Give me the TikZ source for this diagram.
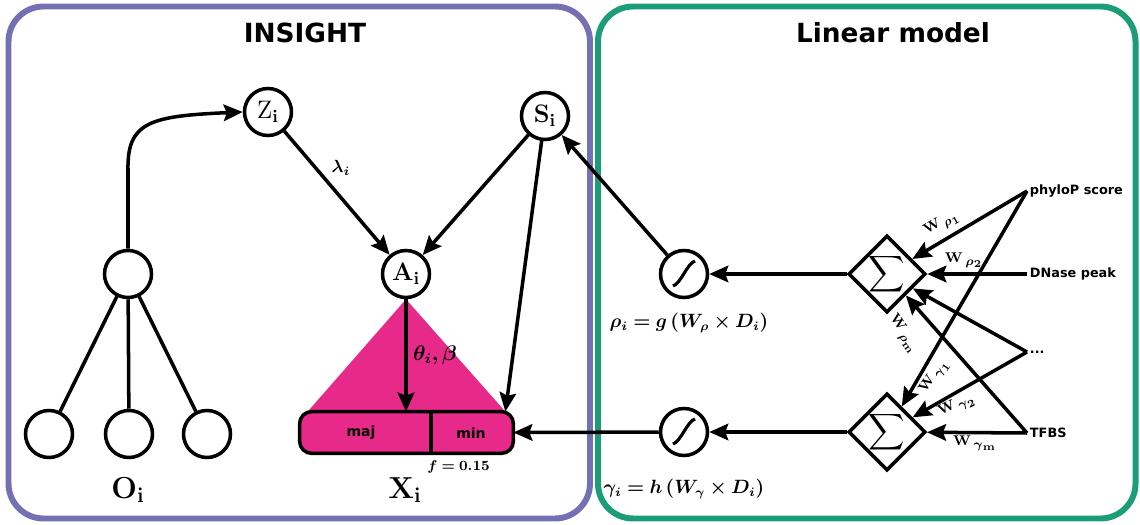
\documentclass[tikz,border=0pt]{standalone}
\usepackage{amsmath,bm}
\usepackage[no-math]{fontspec}
\setsansfont{DejaVu Sans}
\usetikzlibrary{arrows.meta,shapes.geometric,positioning}

\definecolor{insightpurple}{HTML}{7570B3}
\definecolor{lineargreen}{HTML}{1B9E77}
\definecolor{allelepink}{HTML}{E7298A}

\tikzset{
    panel/.style={line width=3.4pt, rounded corners=7mm},
    paneltitle/.style={font=\sffamily\bfseries\fontsize{15}{17}\selectfont},
    var/.style={circle, draw, line width=2pt, fill=white, minimum size=9.4mm, inner sep=0pt, font=\Large},
    sigm/.style={var, path picture={
        \draw[line width=1.8pt] ([shift={(-2.2mm,-2.4mm)}]path picture bounding box.center)
            .. controls +(1.6mm,0.5mm) and +(-1.6mm,-0.5mm) .. ([shift={(2.2mm,2.6mm)}]path picture bounding box.center);}},
    summ/.style={diamond, draw, line width=2pt, fill=white, minimum width=13.2mm, minimum height=13.6mm, inner sep=0pt},
    feat/.style={font=\sffamily\bfseries\fontsize{7.3}{8}\selectfont, anchor=west, inner sep=1.5pt},
    wlab/.style={inner sep=1pt},
    small label/.style={font=\sffamily\bfseries\fontsize{8}{9}\selectfont},
    edge/.style={->, line width=2pt},
}
% weight label: bold W, greek letter and index nearly as large
\newcommand{\wgt}[2]{{\fontsize{8.5}{9}\selectfont$\mathbf{W}$\,\raisebox{-0.5ex}{\fontsize{7.5}{8}\selectfont$\bm{#1}$\raisebox{-0.4ex}{\fontsize{6}{7}\selectfont$\mathbf{#2}$}}}}

\begin{document}
\begin{tikzpicture}[x=0.2mm, y=-0.2mm, >={Stealth[length=3.8mm, width=3.3mm, inset=0.6mm]}]
    \useasboundingbox (0,0) rectangle (1140,525);

    % --- INSIGHT ---
    \draw[panel, insightpurple] (8.5,6.5) rectangle (590,518.5);
    \node[paneltitle] (insight) at (305,33) {INSIGHT};

    \node[var] (zi) at (268,112) {$\mathrm{Z}_\mathbf{i}$};
    \node[var] (si) at (545,116) {$\mathbf{S_i}$};
    \node[var] (ai) at (406,274) {$\mathbf{A_i}$};

    % polymorphism / monomorphism tree
    \node[var] (opar) at (128,274) {};
    \node[var] (oa) at (49,434) {};
    \node[var] (ob) at (129,434) {};
    \node[var] (oc) at (207,434) {};
    \foreach \o in {oa,ob,oc} \draw[line width=2pt] (opar) -- (\o);
    \node[font=\LARGE] (olab) at (128,490) {$\mathbf{O_i}$};

    \draw[edge] (opar.north) -- (128,170) .. controls (127,122) and (150,116) .. (zi.west);

    % allele box
    \node[fill=allelepink, rounded corners=2.4mm,
          minimum width=42.6mm, minimum height=8.2mm, inner sep=0pt] (xbar) at (406.5,432.5) {};
    \fill[allelepink] (ai.south) -- ([xshift=1.6mm]xbar.north west) -- ([xshift=-1.6mm]xbar.north east) -- cycle;
    \draw[line width=2pt, rounded corners=2.4mm] (xbar.south west) rectangle (xbar.north east);
    \coordinate (divtop) at (431,412);
    \coordinate (divbot) at (431,453);
    \draw[line width=2pt] (divtop) -- (divbot);
    \node[small label] (maj) at (361,433) {maj};
    \node[small label] (min) at (471,433) {min};
    \node[anchor=north west, inner sep=0pt, font=\footnotesize] (fval) at ([xshift=-0.8mm,yshift=-1.4mm]divbot) {$\bm{f=0.15}$};
    \node[font=\LARGE] (xlab) at (405,490) {$\mathbf{X_i}$};

    \draw[edge] (zi) -- (ai) node[pos=0.4, above right, inner sep=2pt] {$\bm{\lambda_i}$};
    \draw[edge] (si) -- (ai);
    \draw[edge] (si) -- ([xshift=-1.6mm]xbar.north east);
    \draw[edge] (ai) -- (ai |- xbar.north) node[midway, right, inner sep=3pt, font=\large] {$\bm{\theta_i, \beta}$};

    % --- Linear model ---
    \draw[panel, lineargreen] (598,6.5) rectangle (1135.5,518.5);
    \node[paneltitle] (linear) at (893,33) {Linear model};

    \node[sigm] (sigt) at (684,274) {};
    \node[sigm] (sigb) at (684,432) {};
    \node[summ] (sumt) at (887,274) {\Large$\displaystyle\sum$};
    \node[summ] (sumb) at (887,432) {\Large$\displaystyle\sum$};

    \node[font=\fontsize{10.6}{12}\selectfont] (rholab) at (689,323) {$\bm{\rho_i = g\,(W_{\rho} \times D_i)}$};
    \node[font=\fontsize{10.6}{12}\selectfont] (gamlab) at (684,489) {$\bm{\gamma_i = h\,(W_{\gamma} \times D_i)}$};

    \node[feat] (phylo) at (1027,191) {phyloP score};
    \node[feat] (dnase) at (1027,274) {DNase peak};
    \node[feat] (dots) at (1027,352) {...};
    \node[feat] (tfbs) at (1027,433) {TFBS};

    \draw[edge] (sumt) -- (sigt);
    \draw[edge] (sumb) -- (sigb);
    \draw[edge] (sigt) -- (si);
    \draw[edge] (sigb) -- (xbar.east);

    % weights
    \draw[edge] (phylo.west) -- (sumt);
    \draw[edge] (dnase.west) -- (sumt);
    \draw[edge] (dots.west) -- (sumt);
    \draw[edge] (tfbs.west) -- (sumt);
    \draw[edge] (phylo.west) -- (sumb);
    \draw[edge] (dots.west) -- (sumb);
    \draw[edge] (tfbs.west) -- (sumb);

    \node[wlab, rotate=30] (wr1) at (941,224) {\wgt{\rho}{1}};
    \node[wlab] (wr2) at (963,260) {\wgt{\rho}{2}};
    \node[wlab, rotate=-55] (wrm) at (903,333) {\wgt{\rho}{m}};
    \node[wlab, rotate=55] (wg1) at (934,377) {\wgt{\gamma}{1}};
    \node[wlab, rotate=25] (wg2) at (956,406) {\wgt{\gamma}{2}};
    \node[wlab] (wgm) at (974,443) {\wgt{\gamma}{m}};
\end{tikzpicture}
\end{document}
